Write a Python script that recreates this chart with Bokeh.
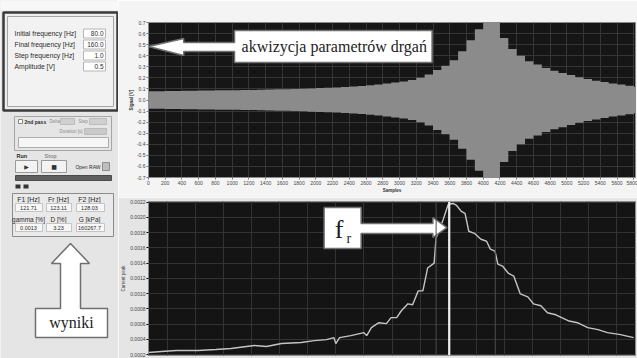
from bokeh.plotting import figure
from bokeh.layouts import row, column
from bokeh.models import Range1d, FixedTicker, NumeralTickFormatter, Span, SingleIntervalTicker
from bokeh.embed import file_html
from bokeh.resources import INLINE
from bokeh.core.properties import value

# ---------------- data ----------------
# top chart: response envelope per frequency step (samples, amplitude [V])
step_start = [0, 100, 200, 300, 400, 500, 600, 700, 800, 900,
              1000, 1100, 1200, 1300, 1400, 1500, 1600, 1700, 1800, 1900,
              2000, 2100, 2200, 2300, 2400, 2500, 2600, 2700, 2800, 2900,
              3000, 3100, 3200, 3300, 3400, 3500, 3600, 3700, 3800, 3900,
              4000, 4100, 4200, 4300, 4400, 4500, 4600, 4700, 4800, 4900,
              5000, 5100, 5200, 5300, 5400, 5500, 5600, 5700, 5800]
envelope_amp = [0.080, 0.080, 0.081, 0.082, 0.083, 0.084, 0.085, 0.086, 0.087, 0.088,
                0.089, 0.090, 0.091, 0.092, 0.094, 0.096, 0.098, 0.100, 0.102, 0.105,
                0.108, 0.111, 0.114, 0.118, 0.122, 0.127, 0.133, 0.140, 0.148, 0.157,
                0.168, 0.180, 0.200, 0.230, 0.270, 0.310, 0.360, 0.440, 0.540, 0.640,
                0.700, 0.700, 0.560, 0.460, 0.400, 0.350, 0.320, 0.290, 0.265, 0.245,
                0.225, 0.205, 0.190, 0.175, 0.162, 0.150, 0.139, 0.128, 0.120]
top_xticks = [0, 200, 400, 600, 800, 1000, 1200, 1400, 1600, 1800, 2000, 2200, 2400, 2600,
              2800, 3000, 3200, 3400, 3600, 3800, 4000, 4200, 4400, 4600, 4800, 5000, 5200,
              5400, 5600, 5800]
top_yticks = [-0.7, -0.6, -0.5, -0.4, -0.3, -0.2, -0.1, 0.0, 0.1, 0.2, 0.3, 0.4, 0.5, 0.6, 0.7]

# bottom chart: peak amplitude vs frequency
freq_hz = [91.0, 92.4, 94.0, 96.3, 98.2, 99.8, 102.3, 103.6, 105.2, 107.3, 108.7, 110.0,
           110.8, 111.0, 111.4, 112.6, 114.0, 114.3, 114.8, 115.6, 116.4, 116.9, 117.5,
           118.0, 118.7, 119.2, 119.8, 120.3, 120.8, 121.5, 121.7, 122.4, 123.0, 123.5,
           123.9, 124.4, 124.8, 125.2, 125.8, 126.5, 127.1, 127.5, 128.0, 128.3, 128.8,
           129.4, 130.0, 130.7, 131.5, 132.1, 132.9, 133.6, 134.5, 135.8, 136.8, 137.9,
           139.0, 140.0, 141.4, 142.8]
peak_amp = [0.000226, 0.000239, 0.000252, 0.000252, 0.000265, 0.000279, 0.000318, 0.000305,
            0.000344, 0.000357, 0.000383, 0.000396, 0.000422, 0.000344, 0.000422, 0.000448,
            0.000487, 0.000448, 0.000553, 0.000618, 0.000605, 0.000684, 0.000684, 0.000775,
            0.000866, 0.000853, 0.001036, 0.001036, 0.001336, 0.001401, 0.001727, 0.001949,
            0.002171, 0.002184, 0.002158, 0.002080, 0.002053, 0.001819, 0.001792, 0.001714,
            0.001688, 0.001584, 0.001558, 0.001388, 0.001362, 0.001270, 0.001231, 0.000996,
            0.000957, 0.000866, 0.000840, 0.000748, 0.000722, 0.000644, 0.000618, 0.000553,
            0.000527, 0.000487, 0.000461, 0.000422]
bottom_yticks = [0.0002, 0.0004, 0.0006, 0.0008, 0.0010, 0.0012, 0.0014, 0.0016, 0.0018,
                 0.0020, 0.0022]
F1, FR, F2 = 121.71, 123.11, 128.03

# left panel texts
param_labels = ["Initial frequency [Hz]", "Final frequency [Hz]", "Step frequency [Hz]", "Amplitude [V]"]
param_values = ["80.0", "160.0", "1.0", "0.5"]
res_head1 = ["F1 [Hz]", "Fr [Hz]", "F2 [Hz]"]
res_val1 = ["121.71", "123.11", "128.03"]
res_head2 = ["gamma [%]", "D [%]", "G [kPa]"]
res_val2 = ["0.0013", "3.23", "160267.7"]

SANS = value("Liberation Sans")
SERIF = value("Liberation Serif")
TXT = "#2b2b2b"

# ---------------- left panel ----------------
LW = 118
L = figure(width=LW, height=358, x_range=Range1d(0, LW), y_range=Range1d(358, 0),
           output_backend="svg", toolbar_location=None, x_axis_location=None,
           y_axis_location=None, min_border=0)
L.grid.visible = False
L.outline_line_color = None
L.background_fill_color = "#e5e5e5"
L.border_fill_color = "#e5e5e5"

L.quad(left=0, right=LW, top=0, bottom=10, fill_color="#f8f8f8", line_color=None)
# acquisition frame
L.quad(left=3, right=117, top=12, bottom=110, fill_color="#ededed", line_color="#3a3a3a", line_width=2.5)
L.quad(left=7, right=113, top=16, bottom=106, fill_color="#f2f2f2", line_color="#a5a5a5", line_width=1)
rows_y = [33, 44, 55, 66]
L.text(x=[14] * 4, y=rows_y, text=param_labels, text_font=SANS, text_font_size="6.8px",
       text_baseline="middle", text_color=TXT)
L.quad(left=[83] * 4, right=[105] * 4, top=[y - 4.5 for y in rows_y], bottom=[y + 4.5 for y in rows_y],
       fill_color="white", line_color="#b5b5b5")
L.text(x=[103] * 4, y=rows_y, text=param_values, text_font=SANS, text_font_size="6.5px",
       text_baseline="middle", text_align="right", text_color=TXT)

# 2nd pass group
L.quad(left=14, right=111, top=116, bottom=150, fill_color=None, line_color="#a6a6a6")
L.quad(left=18, right=22, top=119, bottom=123, fill_color="white", line_color="#888888")
L.text(x=[24], y=[121], text=["2nd pass"], text_font=SANS, text_font_size="5px",
       text_font_style="bold", text_baseline="middle", text_color=TXT)
L.text(x=[49, 78], y=[121, 121], text=["Delta", "Step"], text_font=SANS, text_font_size="4.5px",
       text_baseline="middle", text_color="#8a8a8a")
L.quad(left=[60, 89], right=[74, 106], top=[118, 118], bottom=[124, 124], fill_color="#d0d0d0",
       line_color="#bcbcbc")
L.text(x=[82], y=[131], text=["Duration [s]"], text_font=SANS, text_font_size="4.5px",
       text_baseline="middle", text_align="right", text_color="#8a8a8a")
L.quad(left=84, right=106, top=128, bottom=134, fill_color="#c9c9c9", line_color="#bcbcbc")
L.quad(left=18, right=108, top=137, bottom=147, fill_color="#f6f6f6", line_color="#acacac")

# run / stop
L.text(x=[16, 44], y=[155, 155], text=["Run", "Stop"], text_font=SANS, text_font_size="5.5px",
       text_font_style="bold", text_baseline="middle", text_color=[TXT, "#8a8a8a"])
L.quad(left=[15, 41], right=[37, 66], top=[160, 160], bottom=[172, 172], fill_color="#f3f3f3",
       line_color="#9a9a9a")
L.text(x=[26, 53.5], y=[166, 166], text=["\u25b6", "\u25a0"], text_font=value("DejaVu Sans"),
       text_font_size="6px", text_baseline="middle", text_align="center", text_color="#333333")
L.text(x=[100], y=[166], text=["Open RAW"], text_font=SANS, text_font_size="5px",
       text_baseline="middle", text_align="right", text_color=TXT)
L.quad(left=102, right=109, top=162, bottom=170, fill_color="#bdbdbd", line_color="#8f8f8f")
L.quad(left=15, right=111, top=175, bottom=180, fill_color="#5f5f5f", line_color="#4a4a4a")
L.quad(left=[15, 23], right=[20, 28], top=[184, 184], bottom=[188, 188], fill_color="#333333",
       line_color=None)

# results group
L.quad(left=12, right=113, top=193, bottom=236, fill_color="#e9e9e9", line_color="#8c8c8c")
cols_x = [28, 58, 89]
L.text(x=cols_x, y=[199] * 3, text=res_head1, text_font=SANS, text_font_size="7px",
       text_baseline="middle", text_align="center", text_color=TXT)
L.quad(left=[15, 46, 76], right=[42, 71, 104], top=[203] * 3, bottom=[211] * 3,
       fill_color="#f7f7f7", line_color="#c4c4c4")
L.text(x=cols_x, y=[207] * 3, text=res_val1, text_font=SANS, text_font_size="5.5px",
       text_baseline="middle", text_align="center", text_color=TXT)
L.text(x=cols_x, y=[219] * 3, text=res_head2, text_font=SANS, text_font_size="6.5px",
       text_baseline="middle", text_align="center", text_color=TXT)
L.quad(left=[15, 46, 76], right=[42, 71, 104], top=[223] * 3, bottom=[231] * 3,
       fill_color="#f7f7f7", line_color="#c4c4c4")
L.text(x=cols_x, y=[227] * 3, text=res_val2, text_font=SANS, text_font_size="5.5px",
       text_baseline="middle", text_align="center", text_color=TXT)

# "wyniki" arrow + box
L.patch(x=[70, 89, 80, 80, 107, 107, 35, 35, 60, 60, 51],
        y=[243, 263, 263, 308, 308, 337, 337, 308, 308, 263, 263],
        fill_color="white", line_color="#707070", line_width=1.5)
L.text(x=[71], y=[322], text=["wyniki"], text_font=SERIF, text_font_size="16px",
       text_baseline="middle", text_align="center", text_color="#1c1c1c")

# ---------------- top chart (time signal) ----------------
T = figure(width=637 - LW, height=197, x_range=Range1d(0, 5820), y_range=Range1d(-0.7, 0.7),
           output_backend="svg", toolbar_location=None,
           min_border_left=17, min_border_right=2, min_border_top=22, min_border_bottom=20)
T.background_fill_color = "#161616"
T.border_fill_color = "#f4f4f4"
T.outline_line_color = "#8c8c8c"
T.grid.grid_line_color = "#363636"
T.grid.grid_line_width = 1

xs, lo, hi = [], [], []
for i, a in enumerate(envelope_amp):
    s0 = step_start[i]
    s1 = step_start[i + 1] if i + 1 < len(step_start) else step_start[i] + 100
    xs += [s0, s1]
    lo += [-a, -a]
    hi += [a, a]
T.varea(x=xs, y1=lo, y2=hi, fill_color="#8b8b8b")

T.xaxis.ticker = FixedTicker(ticks=top_xticks)
T.yaxis.ticker = FixedTicker(ticks=top_yticks)
T.yaxis.formatter = NumeralTickFormatter(format="0.0")
T.xaxis.axis_label = "Samples"
T.yaxis.axis_label = "Signal [V]"
for ax in (T.xaxis, T.yaxis):
    ax.major_label_text_font = "Liberation Sans"
    ax.major_label_text_font_size = "5px"
    ax.major_label_text_color = "#444444"
    ax.axis_label_text_font = "Liberation Sans"
    ax.axis_label_text_font_size = "4.5px"
    ax.axis_label_text_font_style = "bold"
    ax.axis_label_text_color = "#333333"
    ax.axis_label_standoff = 0
    ax.major_label_standoff = 1
    ax.major_tick_out = 2
    ax.major_tick_in = 0
    ax.minor_tick_out = 0
    ax.minor_tick_in = 0
    ax.axis_line_color = "#8c8c8c"
    ax.major_tick_line_color = "#777777"

# acquisition arrow + box
T.patch(x=[0, 421, 421, 1028, 1028, 3389, 3389, 1028, 1028, 421, 421],
        y=[0.483, 0.555, 0.519, 0.519, 0.628, 0.628, 0.339, 0.339, 0.438, 0.438, 0.402],
        fill_color="white", line_color="#707070", line_width=1.5)
T.text(x=[2220], y=[0.483], text=["akwizycja parametrów drgań"], text_font=SERIF,
       text_font_size="16px", text_baseline="middle", text_align="center", text_color="#1c1c1c")

# ---------------- bottom chart (resonance curve) ----------------
B = figure(width=637 - LW, height=161, x_range=Range1d(91, 143), y_range=Range1d(0.000187, 0.00221),
           output_backend="svg", toolbar_location=None, x_axis_location=None,
           min_border_left=29, min_border_right=2, min_border_top=4, min_border_bottom=3)
B.background_fill_color = "#141414"
B.border_fill_color = "#e5e5e5"
B.outline_line_color = "#8c8c8c"
B.grid.grid_line_color = "#333333"
B.xgrid.ticker = SingleIntervalTicker(interval=3)
B.yaxis.ticker = FixedTicker(ticks=bottom_yticks)
B.yaxis.formatter = NumeralTickFormatter(format="0.0000")
B.yaxis.axis_label = "Current peak"
B.yaxis.major_label_text_font = "Liberation Sans"
B.yaxis.major_label_text_font_size = "5px"
B.yaxis.major_label_text_color = "#444444"
B.yaxis.axis_label_text_font = "Liberation Sans"
B.yaxis.axis_label_text_font_size = "4.5px"
B.yaxis.axis_label_text_font_style = "normal"
B.yaxis.axis_label_text_color = "#444444"
B.yaxis.axis_label_standoff = 1
B.yaxis.major_label_standoff = 1
B.yaxis.major_tick_out = 2
B.yaxis.major_tick_in = 0
B.yaxis.minor_tick_out = 0
B.yaxis.minor_tick_in = 0
B.yaxis.axis_line_color = "#8c8c8c"

for f, c, w in ((F1, "#4c4c4c", 1), (F2, "#4c4c4c", 1), (FR, "#f0f0f0", 2.2)):
    B.add_layout(Span(location=f, dimension="height", line_color=c, line_width=w))
B.line(freq_hz, peak_amp, line_color="#c4c4c4", line_width=1.4)

# f_r box + arrow
B.patch(x=[109.75, 113.70, 113.70, 121.37, 121.37, 122.86, 121.37, 121.37, 113.70, 113.70, 109.75],
        y=[0.002131, 0.002131, 0.001921, 0.001921, 0.002000, 0.001868, 0.001737, 0.001790,
           0.001790, 0.001593, 0.001593],
        fill_color="white", line_color="#707070", line_width=1.5)
B.text(x=[111.35], y=[0.001842], text=["f"], text_font=SERIF, text_font_size="26px",
       text_baseline="middle", text_align="center", text_color="#1c1c1c")
B.text(x=[112.4], y=[0.001724], text=["r"], text_font=SERIF, text_font_size="14px",
       text_baseline="middle", text_align="center", text_color="#1c1c1c")

layout = row(L, column(T, B))
open("out.html", "w").write(file_html(layout, INLINE))
